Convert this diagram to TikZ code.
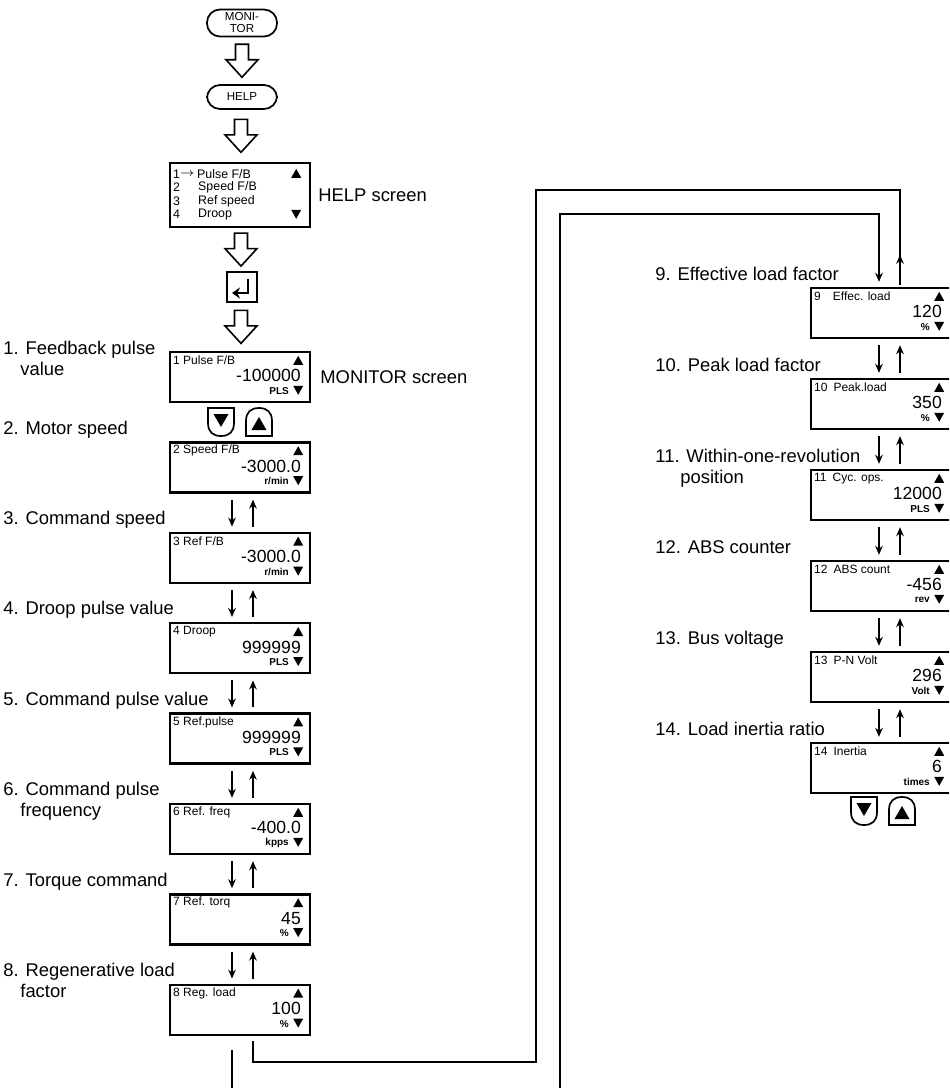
\documentclass[tikz,border=0pt]{standalone}
\usepackage{fontspec}
\setmainfont{Liberation Sans}
\usetikzlibrary{arrows.meta,calc}
\tikzset{
  lbl/.style={font=\fontsize{9.2}{11}\selectfont, anchor=base west, inner sep=0pt},
  scr/.style={draw, line width=1.2pt, minimum width=70pt, minimum height=25pt, inner sep=0pt},
  ttl/.style={font=\fontsize{6}{7}\selectfont, anchor=west, inner sep=0pt},
  hlp/.style={font=\fontsize{6.2}{7}\selectfont, anchor=west, inner sep=0pt},
  num/.style={font=\fontsize{8.8}{9}\selectfont, anchor=east, inner sep=0pt},
  unt/.style={font=\fontsize{5}{6}\selectfont\bfseries, anchor=east, inner sep=0pt},
  conn/.style={line width=0.75pt},
  arr/.style={line width=0.75pt, -{Stealth[length=4.5pt,width=3.8pt]}},
  btnkey/.style={draw, line width=0.85pt, rounded corners=6.5pt, minimum width=35pt, inner sep=0pt, font=\fontsize{5.8}{6}\selectfont, align=center},
  tup/.pic={\fill (-5,4) -- (5,4) -- (0,-5) -- cycle;},
  tdn/.pic={\fill (-5,-4) -- (5,-4) -- (0,5) -- cycle;},
  hollow/.pic={\draw[line width=0.8pt, line join=miter] (-6.5,-16.5) -- (6.5,-16.5) -- (6.5,-1) -- (16,-1) -- (0,16.5) -- (-16,-1) -- (-6.5,-1) -- cycle;},
  btndn/.pic={\draw[line width=0.85pt] (-13,-14) -- (13,-14) -- (13,1) .. controls (13,10) and (8,14) .. (0,14) .. controls (-8,14) and (-13,10) .. (-13,1) -- cycle;
              \fill (-7.5,-8) -- (7.5,-8) -- (0,5) -- cycle;},
  btnup/.pic={\draw[line width=0.85pt] (-13,14) -- (13,14) -- (13,-1) .. controls (13,-10) and (8,-14) .. (0,-14) .. controls (-8,-14) and (-13,-10) .. (-13,-1) -- cycle;
              \fill (-7.5,8) -- (7.5,8) -- (0,-5) -- cycle;}
}
\newcommand\scrbox[6]{%
  \node[scr] (#1) at (#2,#3) {};
  \node[ttl] (#1t) at ([xshift=2pt,yshift=-4.8pt]#1.north west) {#4};
  \node[num] (#1n) at ([xshift=-5pt,yshift=-12.5pt]#1.north east) {#5};
  \node[unt] (#1u) at ([xshift=-11pt,yshift=-20pt]#1.north east) {#6};
  \pic at ([xshift=-6.5pt,yshift=-5pt]#1.north east) {tup};
  \pic at ([xshift=-6.5pt,yshift=-19.5pt]#1.north east) {tdn};
}
\begin{document}
\begin{tikzpicture}[x=0.5pt,y=-0.5pt]
\path[use as bounding box] (0,0) rectangle (949,1088);
\clip (0,0) rectangle (949,1088);

% top keys
\node[btnkey, minimum height=13.5pt] (mon) at (242,23) {MONI-\\TOR};
\node[btnkey, minimum height=12pt] (help) at (242,97) {HELP};

% HELP screen
\node[scr, minimum height=32pt] (hb) at (240,195) {};
\node[hlp] (h1) at ([xshift=2pt,yshift=-6pt]hb.north west) {1};
\node[hlp] (h1a) at ([xshift=5.5pt,yshift=-6pt]hb.north west) {$\rightarrow$};
\node[hlp] (h1t) at ([xshift=14pt,yshift=-6pt]hb.north west) {Pulse F/B};
\node[hlp] (h2) at ([xshift=2pt,yshift=-12.8pt]hb.north west) {2};
\node[hlp] (h2t) at ([xshift=14.5pt,yshift=-12.8pt]hb.north west) {Speed F/B};
\node[hlp] (h3) at ([xshift=2pt,yshift=-19.6pt]hb.north west) {3};
\node[hlp] (h3t) at ([xshift=14.5pt,yshift=-19.6pt]hb.north west) {Ref speed};
\node[hlp] (h4) at ([xshift=2pt,yshift=-26.4pt]hb.north west) {4};
\node[hlp] (h4t) at ([xshift=14.5pt,yshift=-26.4pt]hb.north west) {Droop};
\pic at ([xshift=-7.5pt,yshift=-6pt]hb.north east) {tup};
\pic at ([xshift=-7.5pt,yshift=-26pt]hb.north east) {tdn};
\node[lbl] (hbl) at (318,201.5) {HELP screen};

% enter key
\node[draw, line width=1pt, minimum width=15pt, minimum height=15pt, inner sep=0pt] (ent) at (242,287) {};
\draw[line width=1.4pt, -{Stealth[length=4pt,width=5.5pt]}] ([xshift=3pt,yshift=4pt]ent.center) -- ([xshift=3pt,yshift=-3pt]ent.center) -- ([xshift=-5pt,yshift=-3pt]ent.center);

% left column screens
\scrbox{b1}{240}{377}{1 Pulse F/B}{-100000}{PLS}
\scrbox{b2}{240}{467.4}{2 Speed F/B}{-3000.0}{r/min}
\scrbox{b3}{240}{557.8}{3 Ref F/B}{-3000.0}{r/min}
\scrbox{b4}{240}{648.2}{4 Droop}{999999}{PLS}
\scrbox{b5}{240}{738.6}{5 Ref.pulse}{999999}{PLS}
\scrbox{b6}{240}{829}{6 Ref. freq}{-400.0}{kpps}
\scrbox{b7}{240}{919.4}{7 Ref. torq}{45}{\%}
\scrbox{b8}{240}{1009.8}{8 Reg. load}{100}{\%}
\node[lbl] (mol) at (320,383.5) {MONITOR screen};

% right column screens
\scrbox{b9}{881}{313}{9\hspace{6pt}Effec. load}{120}{\%}
\scrbox{b10}{881}{404}{10\hspace{3pt}Peak.load}{350}{\%}
\scrbox{b11}{881}{495}{11\hspace{3pt}Cyc. ops.}{12000}{PLS}
\scrbox{b12}{881}{586}{12\hspace{3pt}ABS count}{-456}{rev}
\scrbox{b13}{881}{677}{13\hspace{3pt}P-N Volt}{296}{Volt}
\scrbox{b14}{881}{768}{14\hspace{3pt}Inertia}{6}{times}

% hollow arrows
\pic at ($(mon.south)!0.5!(help.north)$) {hollow};
\pic at ($(help.south)!0.5!(hb.north)$) {hollow};
\pic at ($(hb.south)!0.5!(ent.north)$) {hollow};
\pic at ($(ent.south)!0.5!(b1.north)$) {hollow};

% arrow keys
\pic at (221,422) {btndn};
\pic at (259,422) {btnup};
\pic at (864,811) {btndn};
\pic at (902,811) {btnup};

% up/down arrows between screens
\foreach \a/\b in {b2/b3,b3/b4,b4/b5,b5/b6,b6/b7,b7/b8}{
  \draw[arr] ([xshift=-4pt,yshift=-3pt]\a.south) -- ([xshift=-4pt,yshift=2.5pt]\b.north);
  \draw[arr] ([xshift=6.5pt,yshift=2.5pt]\b.north) -- ([xshift=6.5pt,yshift=-3pt]\a.south);
}
\foreach \a/\b in {b9/b10,b10/b11,b11/b12,b12/b13,b13/b14}{
  \draw[arr] ([xshift=-1pt,yshift=-3pt]\a.south) -- ([xshift=-1pt,yshift=2.5pt]\b.north);
  \draw[arr] ([xshift=9.5pt,yshift=2.5pt]\b.north) -- ([xshift=9.5pt,yshift=-3pt]\a.south);
}

% long connectors
\coordinate (oT) at (536,190);
\coordinate (oB) at (536,1062);
\coordinate (iT) at (560,214);
\coordinate (iB) at (560,1100);
\draw[conn] ([xshift=-4pt,yshift=-7pt]b8.south) -- ++(0,80);
\draw[conn] ([xshift=6.5pt,yshift=-2.5pt]b8.south) |- (oB) -- (oT) -| ([xshift=9.5pt,yshift=1pt]b9.north);
\draw[arr] ([xshift=9.5pt,yshift=1pt]b9.north) -- ++(0,-30);
\draw[arr] (iB) -- (iT) -| ([xshift=-1pt,yshift=2.5pt]b9.north);

% left labels
\node[lbl] (l1) at (3,354) {1. Feedback pulse};
\node[lbl] (l1b) at (20,375) {value};
\node[lbl] (l2) at (3,434) {2. Motor speed};
\node[lbl] (l3) at (3,524) {3. Command speed};
\node[lbl] (l4) at (3,614.5) {4. Droop pulse value};
\node[lbl] (l5) at (3,705) {5. Command pulse value};
\node[lbl] (l6) at (3,795.5) {6. Command pulse};
\node[lbl] (l6b) at (20,816) {frequency};
\node[lbl] (l7) at (3,886) {7. Torque command};
\node[lbl] (l8) at (3,976.5) {8. Regenerative load};
\node[lbl] (l8b) at (20,997) {factor};

% right labels
\node[lbl] (l9) at (655,280.5) {9. Effective load factor};
\node[lbl] (l10) at (655,371.5) {10. Peak load factor};
\node[lbl] (l11) at (655,462.5) {11. Within-one-revolution};
\node[lbl] (l11b) at (680,483) {position};
\node[lbl] (l12) at (655,553.5) {12. ABS counter};
\node[lbl] (l13) at (655,644.5) {13. Bus voltage};
\node[lbl] (l14) at (655,735.5) {14. Load inertia ratio};
\end{tikzpicture}
\end{document}
